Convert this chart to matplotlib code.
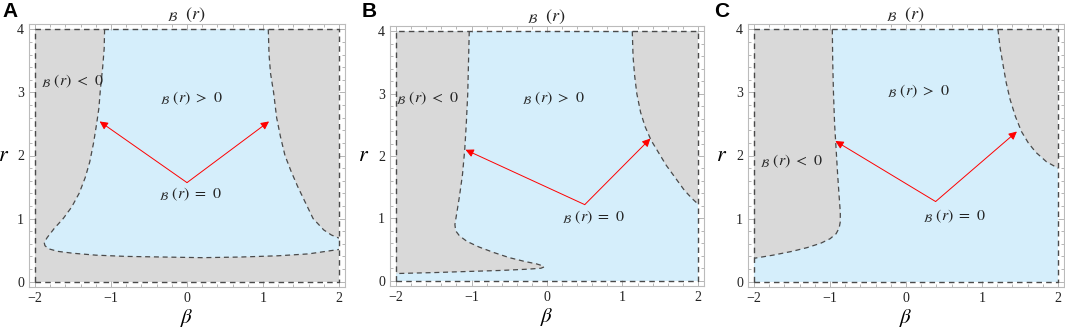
import numpy as np
import matplotlib.pyplot as plt
from matplotlib.ticker import MultipleLocator

plt.rcParams['mathtext.fontset'] = 'stix'
plt.rcParams['font.family'] = ['Liberation Serif', 'DejaVu Serif']

gray = '#d9d9d9'
blue = '#d5eefb'
edge = '#4a4a4a'

# panel A: blue region bounded by a lower-left curve and a right curve
a_left_beta = [-1.085, -1.09, -1.11, -1.14, -1.16, -1.19, -1.23, -1.28, -1.34, -1.42, -1.52, -1.63, -1.75, -1.84, -1.88,
               -1.87, -1.82, -1.70, -1.50, -1.20, -0.80, -0.30, 0.20, 0.70, 1.20, 1.60, 2.0]
a_left_r = [4.0, 3.7, 3.4, 3.05, 2.75, 2.5, 2.2, 1.9, 1.65, 1.4, 1.18, 1.0, 0.84, 0.70, 0.62,
            0.57, 0.52, 0.48, 0.45, 0.42, 0.40, 0.39, 0.38, 0.39, 0.41, 0.44, 0.51]
a_right_beta = [1.07, 1.08, 1.10, 1.14, 1.18, 1.23, 1.29, 1.37, 1.46, 1.56, 1.66, 1.80, 1.90, 2.0]
a_right_r = [4.0, 3.6, 3.3, 3.0, 2.6, 2.3, 2.0, 1.75, 1.5, 1.25, 1.0, 0.82, 0.74, 0.69]

# panel B: gray regions on the blue background
b_left_beta = [-1.03, -1.04, -1.05, -1.07, -1.09, -1.12, -1.16, -1.20, -1.22, -1.21, -1.16, -1.06, -0.90, -0.70, -0.50,
               -0.30, -0.14, -0.06, -0.04, -0.08, -0.25, -0.60, -1.00, -1.50, -2.0]
b_left_r = [4.0, 3.5, 3.0, 2.5, 2.1, 1.7, 1.35, 1.05, 0.90, 0.80, 0.72, 0.63, 0.54, 0.45, 0.37,
            0.31, 0.27, 0.24, 0.22, 0.20, 0.185, 0.165, 0.15, 0.13, 0.115]
b_right_beta = [1.13, 1.14, 1.16, 1.19, 1.24, 1.30, 1.38, 1.48, 1.58, 1.70, 1.82, 1.92, 2.0]
b_right_r = [4.0, 3.6, 3.3, 3.0, 2.7, 2.47, 2.25, 2.05, 1.85, 1.65, 1.45, 1.32, 1.23]

# panel C
c_left_beta = [-0.97, -0.965, -0.955, -0.94, -0.92, -0.90, -0.88, -0.865, -0.865, -0.88, -0.92, -1.0, -1.12, -1.3,
               -1.5, -1.75, -2.0]
c_left_r = [4.0, 3.5, 3.0, 2.5, 2.1, 1.7, 1.35, 1.1, 0.95, 0.85, 0.76, 0.68, 0.61, 0.54, 0.48, 0.42, 0.37]
c_right_beta = [1.21, 1.24, 1.28, 1.32, 1.37, 1.44, 1.52, 1.61, 1.71, 1.85, 2.0]
c_right_r = [4.0, 3.7, 3.42, 3.15, 2.89, 2.62, 2.38, 2.2, 2.05, 1.90, 1.80]

# arrows: start, two ends
arrows = {
    'A': [(0.0, 1.57), (-1.15, 2.54), (1.08, 2.54)],
    'B': [(0.50, 1.22), (-1.08, 2.10), (1.37, 2.28)],
    'C': [(0.39, 1.27), (-0.93, 2.23), (1.46, 2.38)],
}
labels = {
    'A': [(-1.51, 3.18), (0.06, 2.91), (0.04, 1.38)],
    'B': [(-1.59, 2.93), (0.08, 2.93), (0.61, 1.02)],
    'C': [(-1.51, 1.90), (0.16, 3.02), (0.64, 1.03)],
}
label_texts = [r'${}_{\mathcal{B}}\ (r)\ <\ 0$', r'${}_{\mathcal{B}}\ (r)\ >\ 0$', r'${}_{\mathcal{B}}\ (r)\ =\ 0$']

fig = plt.figure(figsize=(10.65, 3.3), dpi=100)
W, H = 1065, 330
frames = {'A': (29, 24, 316, 263), 'B': (390, 26, 314, 260), 'C': (748, 24, 316, 263)}
rlabel_x = {'A': -0.079, 'B': -0.083, 'C': -0.085}

dash = (0, (4, 3))

def setup(ax):
    ax.set_xlim(-2.08, 2.08)
    ax.set_ylim(-0.085, 4.085)
    ax.xaxis.set_major_locator(MultipleLocator(1))
    ax.xaxis.set_minor_locator(MultipleLocator(0.2))
    ax.yaxis.set_major_locator(MultipleLocator(1))
    ax.yaxis.set_minor_locator(MultipleLocator(0.2))
    ax.tick_params(which='both', direction='in', top=True, right=True, color='#aaaaaa',
                   labelsize=10, labelcolor='#222222', width=0.6)
    ax.tick_params(which='major', length=4)
    ax.tick_params(which='minor', length=2)
    for s in ax.spines.values():
        s.set_color('#bbbbbb')
        s.set_linewidth(0.8)
    ax.set_xticks([-2, -1, 0, 1, 2])
    ax.set_xticklabels(['\u22122', '\u22121', '0', '1', '2'])
    ax.set_yticks([0, 1, 2, 3, 4])

axes = {}
for key, (l, t, w, h) in frames.items():
    ax = fig.add_axes([l / W, (H - t - h) / H, w / W, h / H])
    setup(ax)
    axes[key] = ax

# panel A
ax = axes['A']
ax.fill([-2, 2, 2, -2], [0, 0, 4, 4], color=gray, lw=0)
poly_b = list(a_left_beta) + a_right_beta[::-1]
poly_r = list(a_left_r) + a_right_r[::-1]
ax.fill(poly_b, poly_r, color=blue, lw=0)
ax.plot(a_left_beta, a_left_r, color=edge, lw=0.9, ls=dash)
ax.plot(a_right_beta, a_right_r, color=edge, lw=0.9, ls=dash)

# panels B and C
for key, lb, lr, rb, rr in [('B', b_left_beta, b_left_r, b_right_beta, b_right_r),
                            ('C', c_left_beta, c_left_r, c_right_beta, c_right_r)]:
    ax = axes[key]
    ax.fill([-2, 2, 2, -2], [0, 0, 4, 4], color=blue, lw=0)
    ax.fill(list(lb) + [-2], list(lr) + [4], color=gray, lw=0)
    ax.fill(list(rb) + [2], list(rr) + [4], color=gray, lw=0)
    ax.plot(lb, lr, color=edge, lw=0.9, ls=dash)
    ax.plot(rb, rr, color=edge, lw=0.9, ls=dash)

for key, ax in axes.items():
    ax.plot([-2, 2, 2, -2, -2], [0, 0, 4, 4, 0], color=edge, lw=1.0, ls=dash)
    start, e1, e2 = arrows[key]
    for end in (e1, e2):
        ax.annotate('', xy=end, xytext=start,
                    arrowprops=dict(arrowstyle='-|>', color='red', lw=0.7,
                                    mutation_scale=12, shrinkA=0, shrinkB=0))
    for (x, y), s in zip(labels[key], label_texts):
        ax.text(x, y, s, fontsize=11.5, ha='center', va='center', color='#222222')
    ax.set_title(r'${}_{\mathcal{B}}\ \ (r)$', fontsize=13, pad=3, color='#222222')
    ax.set_xlabel(r'$\beta$', fontsize=15, va='center')
    ax.xaxis.set_label_coords(0.5, -0.118)
    ax.set_ylabel(r'$r$', fontsize=16, rotation=0, va='center', ha='center')
    ax.yaxis.set_label_coords(rlabel_x[key], 0.498)

for key, x in [('A', 0), ('B', 360), ('C', 712)]:
    fig.text((x + 2) / W, 1 - 2 / H, key, fontsize=15, fontweight='bold',
             family='Liberation Sans', ha='left', va='top')

fig.savefig('out.png', dpi=100)
